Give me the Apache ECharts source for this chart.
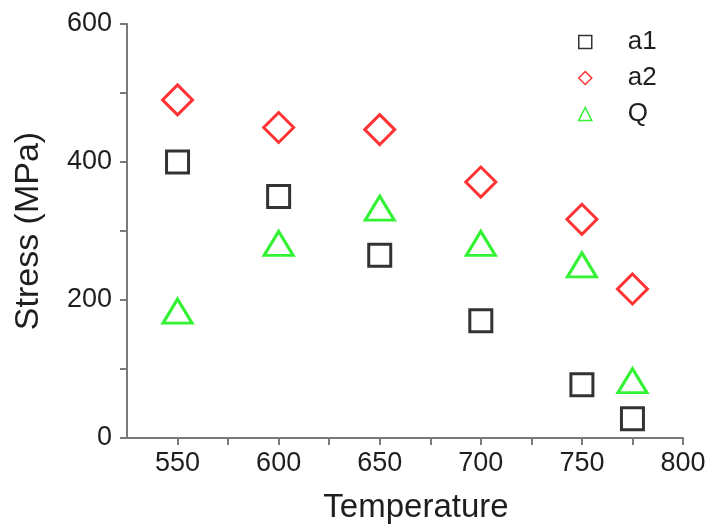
<!DOCTYPE html>
<html>
<head>
<meta charset="utf-8">
<script src="https://cdn.jsdelivr.net/npm/echarts@6/dist/echarts.min.js"></script>
<style>
  html, body { margin: 0; padding: 0; background: #fff; }
  #chart { width: 711px; height: 529px; }
</style>
</head>
<body>
<div id="chart"></div>
<script>
// Temperature (°C) and stress (MPa) per specimen series
const temperatures = [550, 600, 650, 700, 750, 775];
const stressA1 = [400, 350, 265, 170, 77, 28];
const stressA2 = [490, 450, 447, 371, 317, 216];
const stressQ = [184, 282, 333, 282, 251, 83];

const xTicks = [550, 600, 650, 700, 750, 800];
const xMinorTicks = [550, 575, 600, 625, 650, 675, 700, 725, 750, 775, 800];
const yTicks = [0, 200, 400, 600];

const pairs = (xs, ys) => xs.map((x, i) => [x, ys[i]]);

const font = 'Liberation Sans, Arial, sans-serif';
const axisGray = '#7a7a7a';
const textColor = '#1e1e1e';

const chart = echarts.init(document.getElementById('chart'), null, { renderer: 'canvas' });

function hollow(name, symbol, size, color, data) {
  return {
    name: name,
    type: 'scatter',
    symbol: symbol,
    symbolSize: size,
    data: data,
    itemStyle: { color: 'transparent', borderColor: color, borderWidth: 3 },
    emphasis: { disabled: true }
  };
}

chart.setOption({
  animation: false,
  grid: { left: 127, right: 28, top: 24, bottom: 91 },
  legend: {
    orient: 'vertical',
    left: 573,
    top: 24,
    itemWidth: 13,
    itemHeight: 13,
    itemGap: 10,
    textStyle: { fontFamily: font, fontSize: 26, color: textColor, padding: [0, 0, 0, 31], lineHeight: 25 },
    data: [
      { name: 'a1', itemStyle: { borderWidth: 1.5 } },
      { name: 'a2', itemStyle: { borderWidth: 1.5 } },
      { name: 'Q', itemStyle: { borderWidth: 1.5 } }
    ]
  },
  xAxis: {
    type: 'value',
    min: 525,
    max: 800,
    interval: 25,
    name: 'Temperature',
    nameLocation: 'middle',
    nameGap: 53,
    nameTextStyle: { fontFamily: font, fontSize: 33, color: textColor, padding: [0, 0, 0, 22] },
    axisLine: { show: true, lineStyle: { color: axisGray, width: 2 } },
    axisTick: { show: true, length: 7, lineStyle: { color: axisGray, width: 2 },
      customValues: xMinorTicks },
    axisLabel: { fontFamily: font, fontSize: 27, color: textColor, margin: 12,
      customValues: xTicks },
    splitLine: { show: false }
  },
  yAxis: {
    type: 'value',
    min: 0,
    max: 600,
    interval: 100,
    name: 'Stress (MPa)',
    nameLocation: 'middle',
    nameGap: 81,
    nameTextStyle: { fontFamily: font, fontSize: 34, color: textColor },
    axisLine: { show: true, lineStyle: { color: axisGray, width: 2 } },
    axisTick: { show: true, length: 7, lineStyle: { color: axisGray, width: 2 } },
    axisLabel: { fontFamily: font, fontSize: 27, color: textColor, margin: 15,
      customValues: yTicks },
    splitLine: { show: false }
  },
  series: [
    hollow('a1', 'rect', 22, '#000000', pairs(temperatures, stressA1)),
    hollow('a2', 'diamond', [30, 30], '#ff0000', pairs(temperatures, stressA2)),
    hollow('Q', 'triangle', [29, 24], '#00ee00', pairs(temperatures, stressQ))
  ]
});
</script>
</body>
</html>
